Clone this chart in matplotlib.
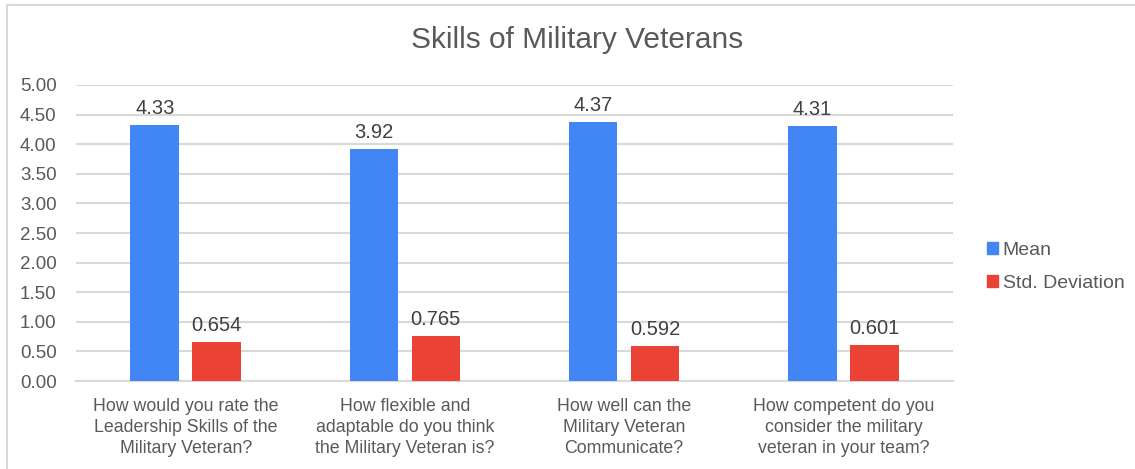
import matplotlib
matplotlib.use("Agg")
import matplotlib.pyplot as plt
from matplotlib.lines import Line2D
from matplotlib.patches import Patch

plt.rcParams['font.family'] = ['Liberation Sans', 'DejaVu Sans']

categories = [
    "How would you rate the\nLeadership Skills of the\nMilitary Veteran?",
    "How flexible and\nadaptable do you think\nthe Military Veteran is?",
    "How well can the\nMilitary Veteran\nCommunicate?",
    "How competent do you\nconsider the military\nveteran in your team?",
]
mean_values = [4.33, 3.92, 4.37, 4.31]
std_values = [0.654, 0.765, 0.592, 0.601]
mean_labels = ["4.33", "3.92", "4.37", "4.31"]
std_labels = ["0.654", "0.765", "0.592", "0.601"]
y_ticks = [0, 0.5, 1, 1.5, 2, 2.5, 3, 3.5, 4, 4.5, 5]

BLUE = "#4285F4"
RED = "#EA4335"
TEXT = "#595959"
GRID = "#D9D9D9"

fig = plt.figure(figsize=(11.35, 4.69), dpi=100)
ax = fig.add_axes([76 / 1135, 1 - 381 / 469, (953 - 76) / 1135, (381 - 85) / 469])

x = list(range(len(categories)))
w = 0.221
off = 0.141
bars_mean = ax.bar([i - off for i in x], mean_values, width=w, color=BLUE, label="Mean", zorder=3)
bars_std = ax.bar([i + off for i in x], std_values, width=w, color=RED, label="Std. Deviation", zorder=3)

for bars, labels in ((bars_mean, mean_labels), (bars_std, std_labels)):
    for b, lab in zip(bars, labels):
        ax.annotate(lab, (b.get_x() + b.get_width() / 2, b.get_height()),
                    xytext=(0, 5), textcoords="offset points",
                    ha="center", va="bottom", fontsize=14.5, color="#404040")

ax.set_xlim(-0.5, len(categories) - 0.5)
ax.set_ylim(0, 5)
ax.set_yticks(y_ticks)
ax.set_yticklabels([f"{v:.2f}" for v in y_ticks])
ax.set_xticks(x)
ax.set_xticklabels(categories, fontsize=12.8, color=TEXT, linespacing=1.32)
ax.tick_params(axis="y", labelsize=13.5, labelcolor=TEXT, length=0, pad=14)
ax.tick_params(axis="x", length=0, pad=12)
ax.grid(axis="y", color=GRID, linewidth=1.5, zorder=0)
for side in ("top", "right", "left"):
    ax.spines[side].set_visible(False)
ax.spines["bottom"].set_color(GRID)
ax.spines["bottom"].set_linewidth(1.5)
ax.set_axisbelow(True)

fig.text(577 / 1135, 1 - 40 / 469, "Skills of Military Veterans", ha="center", va="center",
         fontsize=21.5, color=TEXT)

handles = [Patch(color=BLUE), Patch(color=RED)]
fig.legend(handles, ["Mean", "Std. Deviation"], loc="center left",
           bbox_to_anchor=(987 / 1135, 1 - 267 / 469), frameon=False,
           borderaxespad=0, borderpad=0,
           fontsize=14, labelcolor=TEXT, handlelength=0.55, handleheight=0.55,
           handletextpad=0.25, labelspacing=0.82)

# chart frame (left and top edges)
fig.add_artist(Line2D([6.5 / 1135, 6.5 / 1135], [0, 1 - 5.5 / 469], color=GRID, linewidth=1.5))
fig.add_artist(Line2D([6.5 / 1135, 1], [1 - 5.5 / 469, 1 - 5.5 / 469], color=GRID, linewidth=1.5))

fig.savefig("out.png", dpi=100, facecolor="white")
